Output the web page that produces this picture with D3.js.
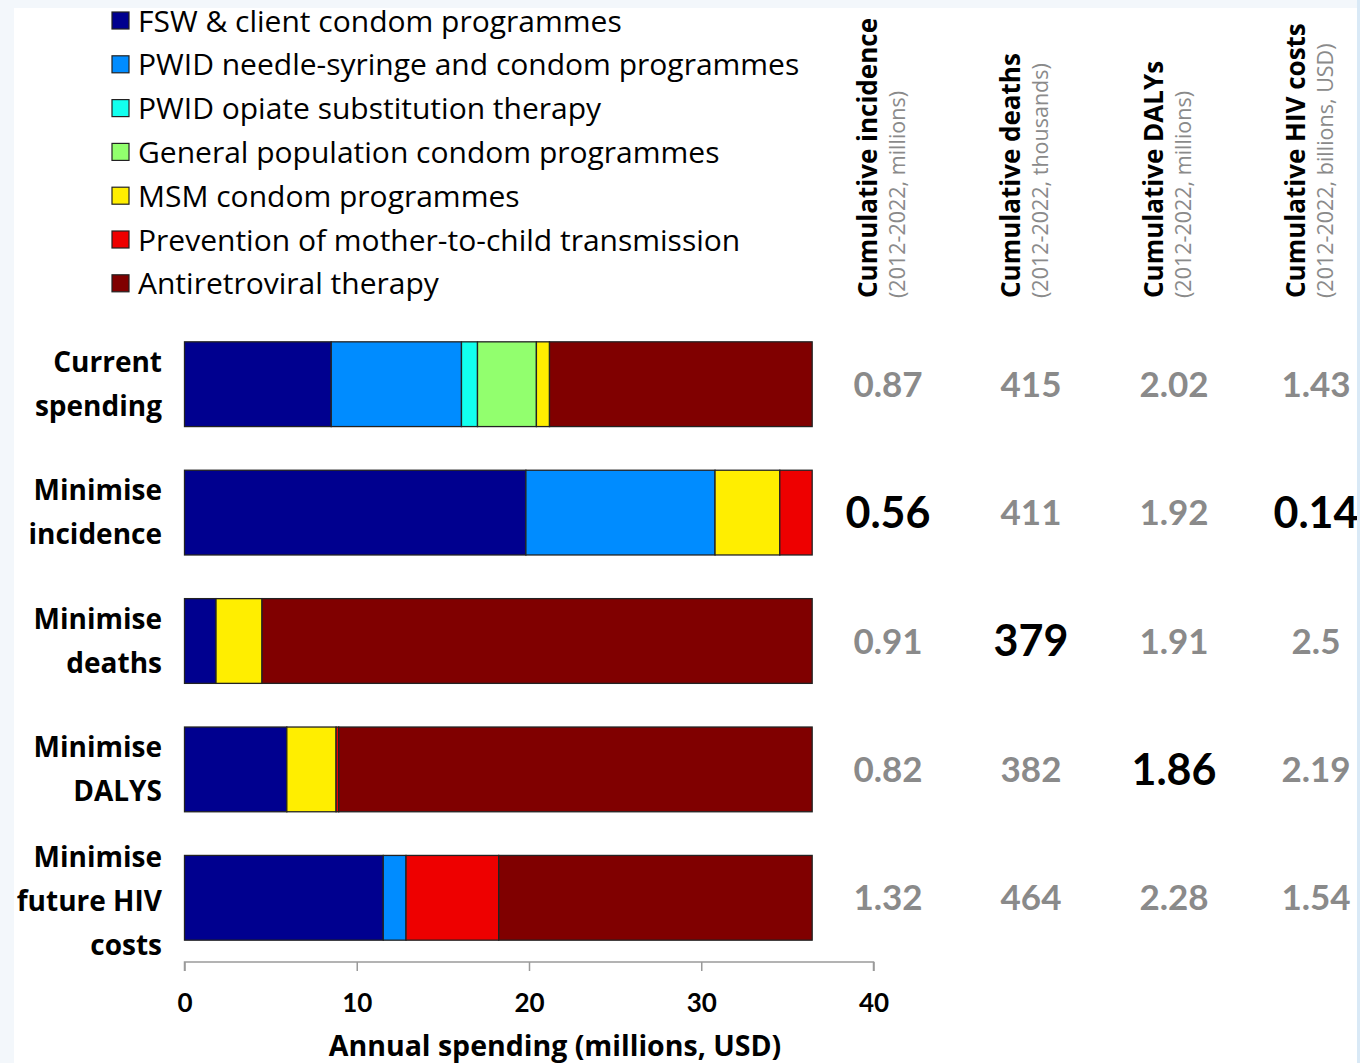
<!DOCTYPE html>
<html>
<head>
<meta charset="utf-8">
<script src="https://cdn.jsdelivr.net/npm/d3@7"></script>
<style>
html,body{margin:0;padding:0;background:#fff;}
svg{display:block;}
text{font-family:"Open Sans",Lato,sans-serif;}
text.num{font-family:Lato,"Open Sans",sans-serif;}
</style>
</head>
<body>
<script>
// ---- data ----
const scenarios = ["Current spending","Minimise incidence","Minimise deaths","Minimise DALYS","Minimise future HIV costs"];
const scenarioLines = [["Current","spending"],["Minimise","incidence"],["Minimise","deaths"],["Minimise","DALYS"],["Minimise","future HIV","costs"]];
const programmes = ["FSW & client condom programmes","PWID needle-syringe and condom programmes","PWID opiate substitution therapy","General population condom programmes","MSM condom programmes","Prevention of mother-to-child transmission","Antiretroviral therapy"];
const colors = ["#00008f","#008cff","#12ffee","#92ff6e","#ffee00","#ee0000","#800000"];
const fsw    = [8.52, 19.82, 1.83, 5.94, 11.54];
const pwidNsp= [7.56, 10.98, 0, 0, 1.32];
const ost    = [0.93, 0, 0, 0, 0];
const genPop = [3.42, 0, 0, 0, 0];
const msm    = [0.76, 3.76, 2.67, 2.86, 0];
const pmtct  = [0, 1.88, 0, 0.15, 5.38];
const art    = [15.25, 0, 31.94, 27.49, 18.20];
const xTicks = [0, 10, 20, 30, 40];
const metricTitles = ["Cumulative incidence","Cumulative deaths","Cumulative DALYs","Cumulative HIV costs"];
const metricUnits = ["(2012-2022, millions)","(2012-2022, thousands)","(2012-2022, millions)","(2012-2022, billions, USD)"];
const incidence = ["0.87","0.56","0.91","0.82","1.32"];
const deaths    = ["415","411","379","382","464"];
const dalys     = ["2.02","1.92","1.91","1.86","2.28"];
const hivCosts  = ["1.43","0.14","2.5","2.19","1.54"];
const bestRow   = [1, 2, 3, 1];

// ---- build ----
const W = 1360, H = 1063;
const svg = d3.select("body").append("svg").attr("width", W).attr("height", H);
svg.append("rect").attr("width", W).attr("height", H).attr("fill", "#f3f7fb");
svg.append("rect").attr("x", 14).attr("y", 8).attr("width", 1343).attr("height", H - 8).attr("fill", "#fff");

const series = [fsw, pwidNsp, ost, genPop, msm, pmtct, art];
const table = scenarios.map((s, i) => {
  const o = {scenario: s};
  programmes.forEach((p, j) => o[p] = series[j][i]);
  return o;
});
const stacked = d3.stack().keys(programmes)(table);

const x = d3.scaleLinear().domain([0, 40]).range([184.5, 873.5]);
const y = d3.scaleBand().domain(scenarios).range([320, 962]).paddingInner(0.34).paddingOuter(0.17);

const bars = svg.append("g");
stacked.forEach((layer, j) => {
  bars.selectAll(null).data(layer.filter(d => d[1] - d[0] > 0)).enter().append("rect")
    .attr("x", d => x(d[0]))
    .attr("width", d => x(d[1]) - x(d[0]))
    .attr("y", d => y(d.data.scenario))
    .attr("height", y.bandwidth())
    .attr("fill", colors[j])
    .attr("stroke", "#222")
    .attr("stroke-width", 1.3);
});

// x axis
const axisG = svg.append("g").attr("transform", "translate(0,962)")
  .call(d3.axisBottom(x).tickValues(xTicks).tickSize(9).tickPadding(23).tickFormat(d3.format("d")));
axisG.select(".domain").attr("stroke", "#9a9a9a").attr("stroke-width", 1.5).attr("d", `M${x(0)},9V0H${x(40)}V9`);
axisG.selectAll(".tick line").attr("stroke", "#9a9a9a").attr("stroke-width", 1.5);
axisG.selectAll(".tick text").attr("class", "num").attr("font-family", "Lato, sans-serif").attr("font-size", 26).attr("font-weight", "bold").attr("fill", "#000");
svg.append("text").attr("x", 555).attr("y", 1056).attr("text-anchor", "middle")
  .attr("font-size", 28.5).attr("font-weight", "bold").text("Annual spending (millions, USD)");

// category labels
scenarios.forEach((s, i) => {
  const lines = scenarioLines[i];
  const cy = y(s) + y.bandwidth() / 2 + (lines.length === 3 ? 3 : 0);
  const lh = 44;
  const y0 = cy - (lines.length - 1) * lh / 2;
  const t = svg.append("text").attr("text-anchor", "end").attr("font-size", 28).attr("font-weight", "bold").attr("fill", "#000");
  lines.forEach((l, k) => t.append("tspan").attr("x", 162).attr("y", y0 + k * lh).attr("dy", "0.35em").text(l));
});

// legend
const legend = svg.append("g");
programmes.forEach((p, j) => {
  const cy = 21 + j * 43.8;
  legend.append("rect").attr("x", 112).attr("y", cy - 9).attr("width", 17).attr("height", 17)
    .attr("fill", colors[j]).attr("stroke", "#222").attr("stroke-width", 1.2);
  legend.append("text").attr("x", 138).attr("y", cy).attr("dy", "0.35em").attr("font-size", 30).attr("fill", "#000").text(p);
});

// metric columns
const colX = [888, 1031, 1174, 1316];
const colVals = [incidence, deaths, dalys, hivCosts];
metricTitles.forEach((t, m) => {
  const bx = colX[m] - 11;
  svg.append("text").attr("transform", `translate(${bx},298) rotate(-90)`)
    .attr("font-size", 26).attr("font-weight", "bold").attr("fill", "#000").text(t);
  svg.append("text").attr("transform", `translate(${bx + 28},298) rotate(-90)`)
    .attr("font-size", 21.5).attr("fill", "#8a8a8a").text(metricUnits[m]);
  colVals[m].forEach((v, i) => {
    const best = i === bestRow[m];
    svg.append("text").attr("class", "num").attr("x", colX[m]).attr("y", y(scenarios[i]) + y.bandwidth() / 2).attr("dy", "0.36em")
      .attr("text-anchor", "middle").attr("font-weight", "bold")
      .attr("font-size", best ? 43 : 35).attr("fill", best ? "#000" : "#8a8a8a").text(v);
  });
});
svg.append("rect").attr("x", 1357).attr("y", 0).attr("width", 3).attr("height", H).attr("fill", "#d9e9f6");
</script>
</body>
</html>
